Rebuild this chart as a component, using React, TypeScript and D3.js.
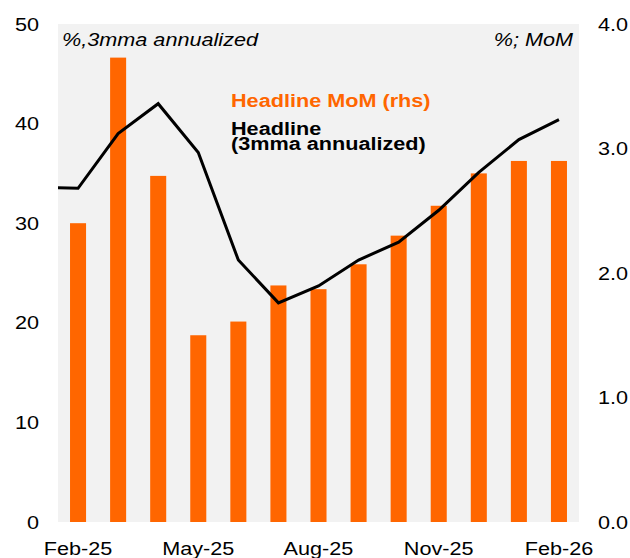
import { useEffect, useRef } from 'react';
import * as d3 from 'd3';

// months shown on the x axis
const months = [
  'Feb-25', 'Mar-25', 'Apr-25', 'May-25', 'Jun-25', 'Jul-25', 'Aug-25',
  'Sep-25', 'Oct-25', 'Nov-25', 'Dec-25', 'Jan-26', 'Feb-26',
];
// headline MoM, rhs (%)
const momValues = [2.4, 3.73, 2.78, 1.5, 1.61, 1.9, 1.87, 2.07, 2.3, 2.54, 2.8, 2.9, 2.9];
// headline 3mma annualized, lhs (%) - first value is Jan-25, drawn off the left edge
const lineLead = 33.6;
const mmaValues = [33.5, 39.0, 42.0, 37.1, 26.3, 22.0, 23.7, 26.3, 28.1, 31.3, 35.1, 38.4, 40.4];
const leftTicks = [0, 10, 20, 30, 40, 50];
const rightTicks = [0, 1, 2, 3, 4];
const xTickLabels = ['Feb-25', 'May-25', 'Aug-25', 'Nov-25', 'Feb-26'];

const W = 630;
const H = 558;
const margin = { top: 24, right: 51, bottom: 36, left: 58 };
const ORANGE = '#ff6600';
const FONT = 'Liberation Sans, Arial, sans-serif';
const FS = 18.5;
const SX = 1.17; // the source text is drawn a bit wide

export default function App() {
  const svgRef = useRef<SVGSVGElement>(null);

  useEffect(() => {
    const svg = d3.select(svgRef.current);
    svg.selectAll('*').remove();

    const iw = W - margin.left - margin.right;
    const ih = H - margin.top - margin.bottom;
    const g = svg.append('g').attr('transform', `translate(${margin.left},${margin.top})`);

    const x = d3.scaleBand().domain(months).range([0, iw]).paddingInner(0).paddingOuter(0);
    const bw = x.bandwidth() * 0.4;
    const yL = d3.scaleLinear().domain([0, 50]).range([ih, 0]);
    const yR = d3.scaleLinear().domain([0, 4]).range([ih, 0]);

    svg.append('defs').append('clipPath').attr('id', 'plotclip')
      .append('rect').attr('width', iw).attr('height', ih);

    g.append('rect').attr('width', iw).attr('height', ih).attr('fill', '#f2f2f2');

    // bars (rhs)
    g.selectAll('.bar')
      .data(momValues)
      .join('rect')
      .attr('class', 'bar')
      .attr('x', (_, i) => x(months[i])! + x.bandwidth() / 2 - bw / 2)
      .attr('y', (d) => yR(d))
      .attr('width', bw)
      .attr('height', (d) => ih - yR(d))
      .attr('fill', ORANGE);

    // line (lhs)
    const pts: [number, number][] = [[-x.bandwidth() / 2, yL(lineLead)]];
    mmaValues.forEach((v, i) => pts.push([x(months[i])! + x.bandwidth() / 2, yL(v)]));
    g.append('path')
      .attr('clip-path', 'url(#plotclip)')
      .attr('d', d3.line()(pts))
      .attr('fill', 'none')
      .attr('stroke', '#000')
      .attr('stroke-width', 3)
      .attr('stroke-linejoin', 'miter');

    const txt = (px: number, py: number, s: string, anchor = 'start') =>
      g.append('text')
        .attr('transform', `translate(${px},${py}) scale(${SX},1)`)
        .attr('text-anchor', anchor)
        .attr('font-size', FS)
        .attr('font-family', FONT)
        .text(s);

    // left axis
    leftTicks.forEach((d) => txt(-19, yL(d) + 6.5, String(d), 'end'));
    // right axis
    rightTicks.forEach((d) => txt(iw + 19, yR(d) + 6.5, d.toFixed(1)));
    // x labels
    xTickLabels.forEach((d) => txt(x(d)! + x.bandwidth() / 2, ih + 33, d, 'middle'));

    // unit labels
    txt(4, 22, '%,3mma annualized').attr('font-style', 'italic');
    txt(iw - 6, 22, '%; MoM', 'end').attr('font-style', 'italic');

    // legend
    txt(173, 82.7, 'Headline MoM (rhs)').attr('font-weight', 'bold').attr('fill', ORANGE);
    txt(173, 111, 'Headline').attr('font-weight', 'bold');
    txt(173, 125.8, '(3mma annualized)').attr('font-weight', 'bold');
  }, []);

  return (
    <svg
      ref={svgRef}
      width={W}
      height={H}
      style={{ position: 'absolute', left: 0, top: 0, background: '#fff' }}
    />
  );
}
